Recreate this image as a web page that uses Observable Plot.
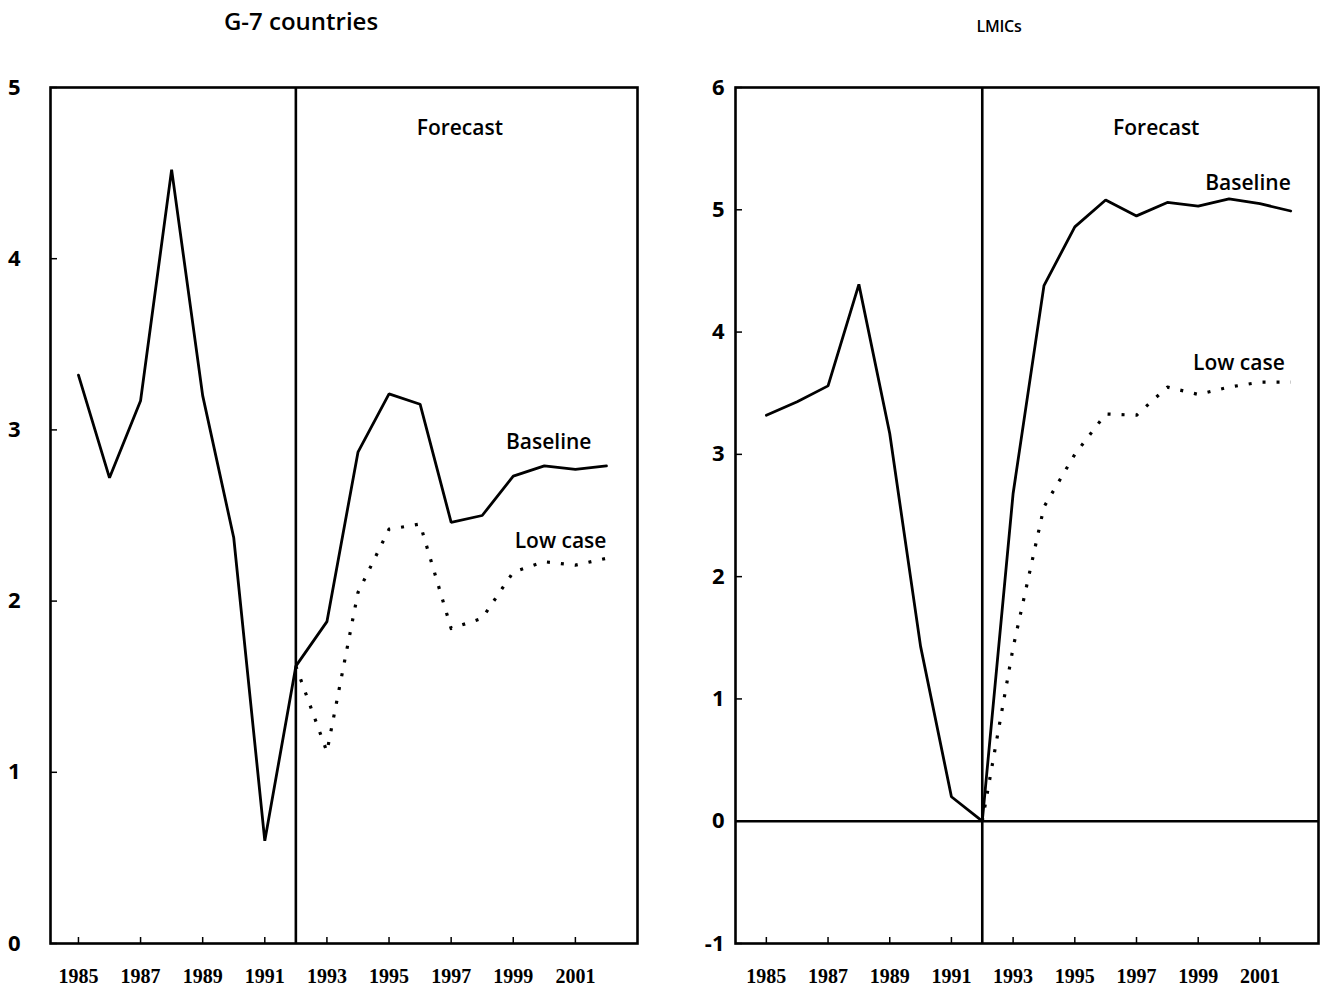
<!DOCTYPE html>
<html>
<head>
<meta charset="utf-8">
<script src="https://cdn.jsdelivr.net/npm/d3@7"></script>
<script src="https://cdn.jsdelivr.net/npm/@observablehq/plot@0.6"></script>
<style>
  html, body { margin: 0; padding: 0; background: #fff; }
  body { width: 1325px; height: 988px; position: relative; overflow: hidden; font-family: "Open Sans", Lato, sans-serif; }
  .title { position: absolute; font-weight: 600; color: #000; transform: translateX(-50%); white-space: nowrap; font-family: "Open Sans", sans-serif; }
  .panel { position: absolute; top: 60px; }
</style>
</head>
<body>
<div class="title" style="left:301px; top:4px; font-size:24px; letter-spacing:0px;">G-7 countries</div>
<div class="title" style="left:999px; top:15px; font-size:16px; letter-spacing:-0.3px;">LMICs</div>
<div class="panel" id="left" style="left:0px;"></div>
<div class="panel" id="right" style="left:680px;"></div>
<script>
const years = [1985,1986,1987,1988,1989,1990,1991,1992,1993,1994,1995,1996,1997,1998,1999,2000,2001,2002];
const forecastYears = [1992,1993,1994,1995,1996,1997,1998,1999,2000,2001,2002];
const xTickYears = [1985,1987,1989,1991,1993,1995,1997,1999,2001];

// G-7 countries
const g7Baseline = [3.32,2.72,3.17,4.52,3.20,2.37,0.60,1.62,1.88,2.87,3.21,3.15,2.46,2.50,2.73,2.79,2.77,2.79];
const g7LowCase  = [1.62,1.12,2.05,2.42,2.45,1.84,1.90,2.17,2.23,2.21,2.25];
const g7YTicks = [0,1,2,3,4,5];

// LMICs
const lmicBaseline = [3.32,3.43,3.56,4.39,3.17,1.43,0.20,0.00,2.68,4.38,4.86,5.08,4.95,5.06,5.03,5.09,5.05,4.99];
const lmicLowCase  = [0.00,1.42,2.57,3.00,3.33,3.32,3.55,3.49,3.55,3.59,3.59];
const lmicYTicks = [-1,0,1,2,3,4,5,6];

const forecastStart = [1992];

const labelFont = {fontFamily: "Open Sans", fontWeight: 600, fontSize: 21, fill: "#000"};

function panel({baseline, lowcase, yDomain, yTicks, xDomain, width, marginLeft, marginRight, yPad,
                forecastDx, baseDx, baseDy, lowDx, lowDy, zeroRule}) {
  const height = 928, marginTop = 27, marginBottom = 45;
  const frameH = height - marginTop - marginBottom;
  const frameW = width - marginLeft - marginRight;
  const base = years.map((y, i) => ({year: y, value: baseline[i]}));
  const low = forecastYears.map((y, i) => ({year: y, value: lowcase[i]}));
  const marks = [
    Plot.tickX(xTickYears, {x: d => d, insetTop: frameH - 6, stroke: "#000", strokeWidth: 1.5}),
    Plot.tickY(yTicks, {y: d => d, insetRight: frameW - 7, stroke: "#000", strokeWidth: 1.5}),
    Plot.axisX({ticks: xTickYears, tickSize: 0, tickPadding: 25, label: null, tickFormat: d => String(d),
                fontFamily: "Liberation Serif", fontWeight: "bold", fontSize: 20}),
    Plot.axisY({ticks: yTicks, tickSize: 0, tickPadding: yPad, label: null, tickFormat: d => d < 0 ? "-" + Math.abs(d) : String(d),
                fontFamily: "Open Sans", fontWeight: "bold", fontSize: 22}),
    Plot.ruleX(forecastStart, {x: d => d, stroke: "#000", strokeWidth: 2.6}),
    Plot.lineY(low, {x: "year", y: "value", stroke: "#000", strokeWidth: 3.2, strokeDasharray: "3,11", strokeLinecap: "butt"}),
    Plot.lineY(base, {x: "year", y: "value", stroke: "#000", strokeWidth: 2.8, strokeLinejoin: "miter"}),
    Plot.text(forecastStart, {x: d => d, frameAnchor: "top", dx: forecastDx, dy: 33, text: () => "Forecast", ...labelFont}),
    Plot.text(base.slice(-1), {x: "year", y: "value", dx: baseDx, dy: baseDy, text: () => "Baseline", textAnchor: "end", ...labelFont}),
    Plot.text(low.slice(-1), {x: "year", y: "value", dx: lowDx, dy: lowDy, text: () => "Low case", textAnchor: "end", ...labelFont}),
    Plot.frame({stroke: "#000", strokeWidth: 2.6})
  ];
  if (zeroRule) marks.splice(4, 0, Plot.ruleY([0], {stroke: "#000", strokeWidth: 2.6}));
  return Plot.plot({
    width, height, marginTop, marginBottom, marginLeft, marginRight,
    style: {background: "#fff", color: "#000", overflow: "visible"},
    x: {domain: xDomain, label: null},
    y: {domain: yDomain, label: null},
    marks
  });
}

document.getElementById("left").appendChild(panel({
  baseline: g7Baseline, lowcase: g7LowCase, yDomain: [0, 5], yTicks: g7YTicks,
  xDomain: [1984.1, 2003.0], width: 660, marginLeft: 50, marginRight: 23, yPad: 30,
  forecastDx: 164, baseDx: -15, baseDy: -24, lowDx: 0, lowDy: -17, zeroRule: false
}));
document.getElementById("right").appendChild(panel({
  baseline: lmicBaseline, lowcase: lmicLowCase, yDomain: [-1, 6], yTicks: lmicYTicks,
  xDomain: [1984.0, 2002.9], width: 645, marginLeft: 55, marginRight: 7, yPad: 11,
  forecastDx: 174, baseDx: 0, baseDy: -28, lowDx: -6, lowDy: -19, zeroRule: true
}));
</script>
</body>
</html>
